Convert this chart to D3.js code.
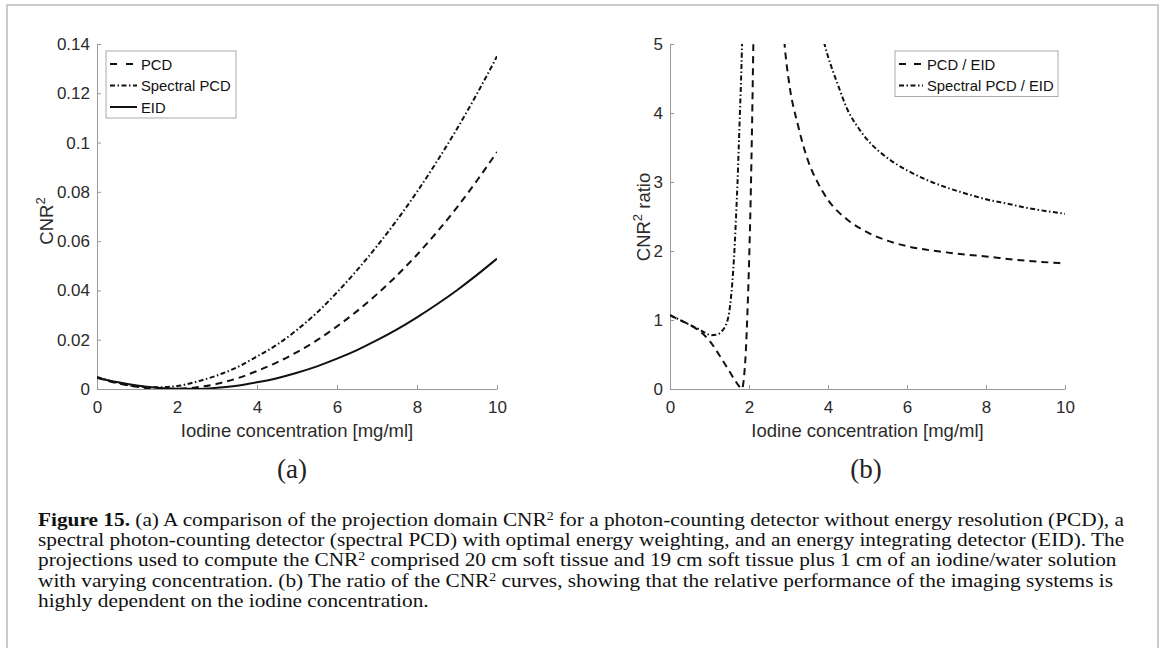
<!DOCTYPE html>
<html>
<head>
<meta charset="utf-8">
<script src="https://cdn.jsdelivr.net/npm/d3@7"></script>
<style>
  body { margin: 0; background: #fff; }
  svg { display: block; }
  .tick text { font-family: "Liberation Sans", Arial, sans-serif; font-size: 17px; fill: #2b2b2b; }
  .axis path, .axis line { stroke: #999; }
  .lbl { font-family: "Liberation Sans", Arial, sans-serif; font-size: 18.5px; fill: #2b2b2b; }
  .leg { font-family: "Liberation Sans", Arial, sans-serif; font-size: 14.8px; fill: #111; }
  .sub { font-family: "Liberation Serif", "Times New Roman", serif; font-size: 27px; fill: #222; }
  .cap { font-family: "Liberation Serif", "Times New Roman", serif; fill: #111; }
</style>
</head>
<body>
<svg id="fig" width="1167" height="648"></svg>
<script>
// (a) CNR^2 against iodine concentration
const cnrConc = [0, 0.5, 1, 1.5, 2, 2.5, 3, 3.5, 4, 4.5, 5, 5.5, 6, 6.5, 7, 7.5, 8, 8.5, 9, 9.5, 10];
const cnrPCD = [0.0046, 0.0024, 0.0009, 0.00015, 0.00008, 0.0007, 0.0021, 0.0043, 0.0073, 0.0108, 0.0150,
  0.0198, 0.0254, 0.0316, 0.0385, 0.0461, 0.0545, 0.0637, 0.0737, 0.0846, 0.0962];
const cnrSpectral = [0.0049, 0.0026, 0.0011, 0.0007, 0.0012, 0.0030, 0.0055, 0.0088, 0.0132, 0.0180, 0.0240,
  0.0310, 0.0392, 0.0482, 0.0580, 0.0686, 0.0800, 0.0924, 0.1056, 0.1198, 0.1350];
const cnrEID = [0.0046, 0.0028, 0.0014, 0.0005, 0.00006, 0.00005, 0.0005, 0.0013, 0.0027, 0.0044, 0.0066,
  0.0092, 0.0123, 0.0158, 0.0198, 0.0242, 0.0291, 0.0344, 0.0401, 0.0463, 0.0529];

// (b) CNR^2 ratios; null marks the break at the EID zero crossing
const ratioPcdConc = [0, 0.25, 0.5, 0.75, 1.0, 1.25, 1.5, 1.65, 1.75, 1.82, 1.87, 1.92, 1.96, 2.0, 2.04, 2.08, 2.11, 2.14,
  null, 2.85, 2.9, 3.0, 3.25, 3.5, 3.75, 4, 4.5, 5, 5.5, 6, 7, 8, 9, 10];
const ratioPcd = [1.07, 1.0, 0.93, 0.84, 0.70, 0.49, 0.26, 0.12, 0.04, 0, 0.15, 0.55, 1.1, 1.8, 2.7, 3.9, 5.0, 6.0,
  null, 5.4, 5.0, 4.5, 3.8, 3.3, 2.98, 2.74, 2.45, 2.27, 2.15, 2.07, 1.98, 1.92, 1.86, 1.82];
const ratioSpecConc = [0, 0.25, 0.5, 0.75, 0.9, 1.05, 1.2, 1.3, 1.4, 1.45, 1.5, 1.55, 1.6, 1.64, 1.68, 1.71, 1.74, 1.77, 1.8, 1.82, 1.84,
  null, 3.75, 3.91, 4.0, 4.25, 4.5, 4.75, 5, 5.5, 6, 6.5, 7, 7.5, 8, 8.5, 9, 9.5, 10];
const ratioSpec = [1.07, 1.0, 0.93, 0.86, 0.81, 0.78, 0.79, 0.83, 0.91, 0.98, 1.12, 1.36, 1.72, 2.1, 2.6, 3.0, 3.5, 4.0, 4.5, 4.9, 5.4,
  null, 5.35, 5.0, 4.82, 4.41, 4.04, 3.80, 3.61, 3.35, 3.17, 3.03, 2.92, 2.83, 2.75, 2.69, 2.63, 2.58, 2.54];

const xTicks = [0, 2, 4, 6, 8, 10];
const cnrTicks = [0, 0.02, 0.04, 0.06, 0.08, 0.1, 0.12, 0.14];
const ratioTicks = [0, 1, 2, 3, 4, 5];

const DASH = '7,5';
const DASHDOT = '5,2.5,1.5,2.5';

const svg = d3.select('#fig');
svg.append('rect').attr('width', 1167).attr('height', 648).attr('fill', '#fff');
svg.append('rect').attr('x', 7).attr('y', 5).attr('width', 1151).attr('height', 660)
  .attr('fill', 'none').attr('stroke', '#bbb').attr('stroke-width', 1.5);

function zip(xs, ys) {
  return xs.map((x, i) => (x === null ? null : [x, ys[i]]));
}

function drawPanel(p) {
  const x = d3.scaleLinear().domain([0, 10]).range([p.left, p.right]);
  const y = d3.scaleLinear().domain(p.yDomain).range([389, 44]);

  const g = svg.append('g');
  const clipId = 'clip-' + p.id;
  g.append('clipPath').attr('id', clipId).append('rect')
    .attr('x', p.left).attr('y', 44).attr('width', p.right - p.left).attr('height', 345);

  g.append('g').attr('class', 'axis').attr('transform', 'translate(0,389)')
    .call(d3.axisBottom(x).tickValues(xTicks).tickSizeInner(-4).tickSizeOuter(0).tickPadding(12));
  g.append('g').attr('class', 'axis').attr('transform', 'translate(' + p.left + ',0)')
    .call(d3.axisLeft(y).tickValues(p.yTicks).tickSizeInner(-4).tickSizeOuter(0).tickPadding(7)
      .tickFormat(p.fmt));

  const line = d3.line()
    .defined((d) => d !== null)
    .x((d) => x(d[0]))
    .y((d) => y(d[1]))
    .curve(d3.curveMonotoneX);

  p.series.forEach((s) => {
    g.append('path')
      .attr('clip-path', 'url(#' + clipId + ')')
      .attr('d', line(s.points))
      .attr('fill', 'none')
      .attr('stroke', '#111')
      .attr('stroke-width', 2)
      .attr('stroke-dasharray', s.dash);
  });

  // axis titles
  g.append('text').attr('class', 'lbl').attr('text-anchor', 'middle')
    .attr('x', (p.left + p.right) / 2).attr('y', 437)
    .text('Iodine concentration [mg/ml]');
  const yl = g.append('text').attr('class', 'lbl').attr('text-anchor', 'middle')
    .attr('transform', 'translate(' + p.yLabelX + ',' + p.yLabelY + ') rotate(-90)');
  yl.append('tspan').text('CNR');
  yl.append('tspan').attr('font-size', 13).attr('dy', -8).text('2');
  if (p.yLabelRest) {
    yl.append('tspan').attr('dy', 8).text(p.yLabelRest);
  }

  // legend
  const L = p.legend;
  g.append('rect').attr('x', L.x).attr('y', 51).attr('width', L.w).attr('height', 2.5 + 21.5 * p.series.length)
    .attr('fill', '#fff').attr('stroke', '#aaa').attr('stroke-width', 1);
  p.series.forEach((s, i) => {
    const yy = 64 + i * 21.5;
    g.append('line').attr('x1', L.x + 4).attr('x2', L.x + 4 + L.sample).attr('y1', yy).attr('y2', yy)
      .attr('stroke', '#111').attr('stroke-width', 2).attr('stroke-dasharray', s.legDash || s.dash);
    g.append('text').attr('class', 'leg').attr('x', L.x + L.sample + 8).attr('y', yy + 5.5).text(s.name);
  });

  svg.append('text').attr('class', 'sub').attr('text-anchor', 'middle')
    .attr('x', p.subX).attr('y', 478).text(p.sub);
}

drawPanel({
  id: 'a', left: 97, right: 497, yDomain: [0, 0.14], yTicks: cnrTicks,
  fmt: (d) => (d === 0 ? '0' : d3.format('.2~f')(d)),
  yLabelX: 53, yLabelY: 221,
  legend: { x: 106, w: 130, sample: 27 },
  sub: '(a)', subX: 292,
  series: [
    { name: 'PCD', dash: DASH, legDash: '7,9', points: zip(cnrConc, cnrPCD) },
    { name: 'Spectral PCD', dash: DASHDOT, points: zip(cnrConc, cnrSpectral) },
    { name: 'EID', dash: null, points: zip(cnrConc, cnrEID) },
  ],
});

drawPanel({
  id: 'b', left: 670, right: 1065, yDomain: [0, 5], yTicks: ratioTicks,
  fmt: d3.format('d'),
  yLabelX: 650, yLabelY: 217, yLabelRest: ' ratio',
  legend: { x: 895, w: 163, sample: 24 },
  sub: '(b)', subX: 866,
  series: [
    { name: 'PCD / EID', dash: DASH, legDash: '7,8', points: zip(ratioPcdConc, ratioPcd) },
    { name: 'Spectral PCD / EID', dash: DASHDOT, points: zip(ratioSpecConc, ratioSpec) },
  ],
});

// caption: [text, kind] where kind b = bold, s = superscript
const capLines = [
  [['Figure 15.', 'b'], [' (a) A comparison of the projection domain CNR'], ['2', 's'],
    [' for a photon-counting detector without energy resolution (PCD), a']],
  [['spectral photon-counting detector (spectral PCD) with optimal energy weighting, and an energy integrating detector (EID). The']],
  [['projections used to compute the CNR'], ['2', 's'],
    [' comprised 20 cm soft tissue and 19 cm soft tissue plus 1 cm of an iodine/water solution']],
  [['with varying concentration. (b) The ratio of the CNR'], ['2', 's'],
    [' curves, showing that the relative performance of the imaging systems is']],
  [['highly dependent on the iodine concentration.']],
];
const capSize = 18;
const cap = svg.append('g');
const capTexts = capLines.map((segs, i) => {
  const t = cap.append('text').attr('class', 'cap').attr('x', 0).attr('y', 0)
    .style('font-size', capSize + 'px');
  let raised = false;
  segs.forEach(([s, k]) => {
    const ts = t.append('tspan').text(s);
    if (k === 'b') ts.attr('font-weight', 'bold');
    if (k === 's') {
      ts.attr('dy', -6).style('font-size', (capSize * 0.65) + 'px');
      raised = true;
    } else if (raised) {
      ts.attr('dy', 6);
      raised = false;
    }
  });
  return t;
});
// squeeze the caption horizontally so the first line spans the page width
const sx = 1087 / capTexts[0].node().getComputedTextLength();
capTexts.forEach((t, i) => {
  t.attr('transform', 'translate(38,' + (526 + i * 20.2) + ') scale(' + sx + ',1)');
});
</script>
</body>
</html>
